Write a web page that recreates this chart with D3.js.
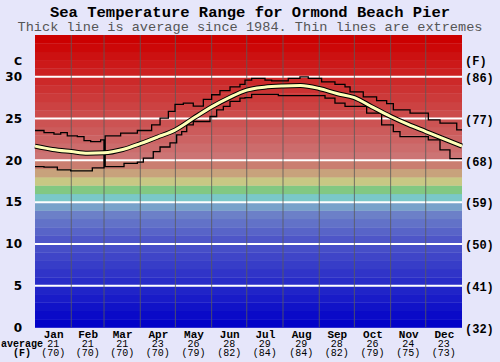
<!DOCTYPE html>
<html>
<head>
<meta charset="utf-8">
<script src="https://cdn.jsdelivr.net/npm/d3@7"></script>
<style>
  body { margin: 0; background: #e6e6fa; }
  svg { display: block; }
</style>
</head>
<body>
<div id="chart"></div>
<script>
const months = ['Jan', 'Feb', 'Mar', 'Apr', 'May', 'Jun', 'Jul', 'Aug', 'Sep', 'Oct', 'Nov', 'Dec'];
const monthDays = [31, 28, 31, 30, 31, 30, 31, 31, 30, 31, 30, 31];
const monthAvgC = ['21', '21', '21', '23', '26', '28', '29', '29', '28', '26', '24', '23'];
const monthAvgF = ['(70)', '(70)', '(70)', '(70)', '(79)', '(82)', '(84)', '(84)', '(82)', '(79)', '(75)', '(73)'];
const celsiusTicks = [0, 5, 10, 15, 20, 25, 30];
const fahrenheitTicks = ['(32)', '(41)', '(50)', '(59)', '(68)', '(77)', '(86)'];

// [day of year, deg C]
const averageTemp = [
  [0, 21.7], [15, 21.3], [31, 21.05], [45, 20.85], [59, 20.9], [75, 21.3], [90, 22.0],
  [105, 22.8], [120, 23.65], [135, 25.0], [151, 26.4], [166, 27.5], [181, 28.4],
  [196, 28.75], [212, 28.9], [227, 28.95], [243, 28.6], [258, 28.0], [273, 27.5],
  [288, 26.4], [304, 25.25], [319, 24.3], [334, 23.45], [349, 22.6], [365, 21.7]
];
const maxTemp = [
  [0, 23.57], [7.7, 23.33], [16.2, 23.13], [22, 23.33], [27.6, 22.93], [36.2, 22.85],
  [41.9, 22.37], [47.6, 22.25], [56.1, 22.45], [59, 21.0], [60, 22.93], [73.2, 23.25],
  [87.5, 23.57], [99.7, 24.25], [106.9, 25.05], [114, 25.85], [119.7, 26.7], [126.8, 26.85],
  [135.3, 26.5], [143.9, 27.3], [151, 27.85], [158.1, 28.35], [166.7, 28.8], [175.2, 29.1],
  [179.5, 29.6], [185.2, 29.8], [196.6, 29.6], [202.3, 29.5], [216.5, 29.8], [226.5, 30.0],
  [233.6, 29.8], [245, 29.4], [256.4, 29.1], [265, 28.8], [269.3, 28.2], [280.6, 27.6],
  [292, 27.15], [300.6, 26.8], [306.3, 26.05], [320.6, 25.65], [336.2, 24.85],
  [346.2, 24.45], [360.5, 23.65], [365, 23.65]
];
const minTemp = [
  [0, 19.26], [7.7, 19.18], [19.1, 18.86], [30.5, 18.74], [49, 19.1], [59, 21.0], [60, 19.26],
  [76.1, 19.65], [87.5, 19.8], [92.6, 20.26], [101.1, 21.05], [106.9, 21.6], [115.4, 22.1],
  [121.1, 23.05], [125.4, 23.45], [129.7, 24.25], [135.3, 24.65], [149.6, 25.25],
  [155.3, 26.05], [161, 26.45], [166.7, 27.05], [175.2, 27.45], [179.5, 27.5], [185.2, 27.9],
  [208, 27.75], [247.9, 27.45], [256.4, 26.85], [265, 26.45], [283.5, 25.65], [296.3, 24.25],
  [306.3, 23.45], [312, 22.85], [336.2, 22.45], [346.2, 21.25], [354.7, 20.2], [365, 20.2]
];

const width = 500;
const height = 362;
const margin = { top: 35, right: 38, bottom: 34.5, left: 35 };
const mono = '"Liberation Mono", "Courier New", monospace';

const svg = d3.select('#chart').append('svg')
  .attr('width', width)
  .attr('height', height);

const x = d3.scaleLinear()
  .domain([0, 365])
  .range([margin.left, width - margin.right]);

const y = d3.scaleLinear()
  .domain([0, 35])
  .range([height - margin.bottom, margin.top]);

const bandColor = d3.scaleLinear()
  .domain([0, 10, 13, 14, 15, 16, 17, 18, 19, 20, 34])
  .range(['#0202c8', '#4e56c8', '#6c80c8', '#78a2ca', '#7ac8c8', '#82c882', '#c8c884',
          '#c8a27c', '#ca7e70', '#cc7474', '#cc0000']);

// colour bands, one per degree
svg.append('g').selectAll('rect')
  .data(d3.range(35))
  .enter()
  .append('rect')
  .attr('x', x(0))
  .attr('y', d => y(d + 1))
  .attr('width', x(365) - x(0))
  .attr('height', d => y(d) - y(d + 1) + 0.3)
  .attr('fill', d => bandColor(d));

// white lines every 5C
svg.append('g').selectAll('line')
  .data(celsiusTicks.filter(d => d > 0))
  .enter()
  .append('line')
  .attr('x1', x(0))
  .attr('x2', x(365))
  .attr('y1', d => y(d))
  .attr('y2', d => y(d))
  .attr('stroke', '#fff')
  .attr('stroke-width', 2);

// month separators
const monthStarts = [0, ...d3.cumsum(monthDays)];
svg.append('g').selectAll('line')
  .data(monthStarts.slice(1, 12))
  .enter()
  .append('line')
  .attr('x1', d => x(d))
  .attr('x2', d => x(d))
  .attr('y1', y(35))
  .attr('y2', y(0))
  .attr('stroke', '#5a5a5a')
  .attr('stroke-opacity', 0.8)
  .attr('stroke-width', 1);

// extremes
const stepLine = d3.line()
  .x(d => x(d[0]))
  .y(d => y(d[1]))
  .curve(d3.curveStepAfter);

[maxTemp, minTemp].forEach(series => {
  svg.append('path')
    .datum(series)
    .attr('fill', 'none')
    .attr('stroke', '#000')
    .attr('stroke-width', 1.3)
    .attr('d', stepLine);
});

// average
const avgLine = d3.line()
  .x(d => x(d[0]))
  .y(d => y(d[1]))
  .curve(d3.curveMonotoneX);

svg.append('path')
  .datum(averageTemp)
  .attr('fill', 'none')
  .attr('stroke', '#000')
  .attr('stroke-width', 5)
  .attr('d', avgLine);

svg.append('path')
  .datum(averageTemp)
  .attr('fill', 'none')
  .attr('stroke', '#ffffb8')
  .attr('stroke-width', 3)
  .attr('d', avgLine);

// axes
const leftAxis = svg.append('g')
  .attr('transform', `translate(${margin.left}, 0)`)
  .call(d3.axisLeft(y).tickValues(celsiusTicks).tickSize(0).tickPadding(13));
leftAxis.select('.domain').remove();
leftAxis.selectAll('text')
  .style('font-family', '"DejaVu Sans", Verdana, sans-serif')
  .style('font-size', '12px')
  .style('font-weight', 'bold')
  .attr('fill', '#000');

const rightAxis = svg.append('g')
  .attr('transform', `translate(${width - margin.right}, 0)`)
  .call(d3.axisRight(y).tickValues(celsiusTicks).tickFormat((d, i) => fahrenheitTicks[i]).tickSize(0).tickPadding(3));
rightAxis.select('.domain').remove();
rightAxis.selectAll('text')
  .style('font-family', mono)
  .style('font-size', '12px')
  .style('font-weight', 'bold')
  .attr('dy', '0.4em')
  .attr('fill', '#000');

const monthMids = monthStarts.slice(0, 12).map((d, i) => d + monthDays[i] / 2);

const bottomAxis = svg.append('g')
  .attr('transform', `translate(0, ${height - margin.bottom})`)
  .call(d3.axisBottom(x).tickValues(monthMids).tickFormat((d, i) => months[i]).tickSize(0).tickPadding(0));
bottomAxis.select('.domain').remove();
bottomAxis.selectAll('text')
  .attr('dy', null)
  .attr('y', 10)
  .style('font-family', mono)
  .style('font-size', '11px')
  .style('font-weight', 'bold')
  .attr('fill', '#000');

svg.append('g').selectAll('text')
  .data(monthMids)
  .enter()
  .append('text')
  .attr('x', d => x(d))
  .attr('y', 346.5)
  .attr('text-anchor', 'middle')
  .style('font-family', mono)
  .style('font-size', '10px')
  .text((d, i) => monthAvgC[i]);

svg.append('g').selectAll('text')
  .data(monthMids)
  .enter()
  .append('text')
  .attr('x', d => x(d))
  .attr('y', 356)
  .attr('text-anchor', 'middle')
  .style('font-family', mono)
  .style('font-size', '10px')
  .text((d, i) => monthAvgF[i]);

svg.append('text')
  .attr('x', 1)
  .attr('y', 346.5)
  .style('font-family', mono)
  .style('font-size', '10px')
  .style('font-weight', 'bold')
  .text('average');

svg.append('text')
  .attr('x', 22)
  .attr('y', 356)
  .attr('text-anchor', 'middle')
  .style('font-family', mono)
  .style('font-size', '10px')
  .style('font-weight', 'bold')
  .text('(F)');

// unit labels
svg.append('text')
  .attr('x', 22)
  .attr('y', 65)
  .attr('text-anchor', 'end')
  .style('font-family', '"DejaVu Sans", Verdana, sans-serif')
  .style('font-size', '11px')
  .style('font-weight', 'bold')
  .text('C');

svg.append('text')
  .attr('x', 465)
  .attr('y', 65)
  .style('font-family', mono)
  .style('font-size', '12px')
  .style('font-weight', 'bold')
  .text('(F)');

// titles
svg.append('text')
  .attr('x', width / 2)
  .attr('y', 17)
  .attr('text-anchor', 'middle')
  .style('font-family', mono)
  .style('font-size', '15.5px')
  .style('font-weight', 'bold')
  .text('Sea Temperature Range for Ormond Beach Pier');

svg.append('text')
  .attr('x', width / 2)
  .attr('y', 31)
  .attr('text-anchor', 'middle')
  .style('font-family', mono)
  .style('font-size', '13.6px')
  .attr('fill', '#555')
  .text('Thick line is average since 1984. Thin lines are extremes');
</script>
</body>
</html>
